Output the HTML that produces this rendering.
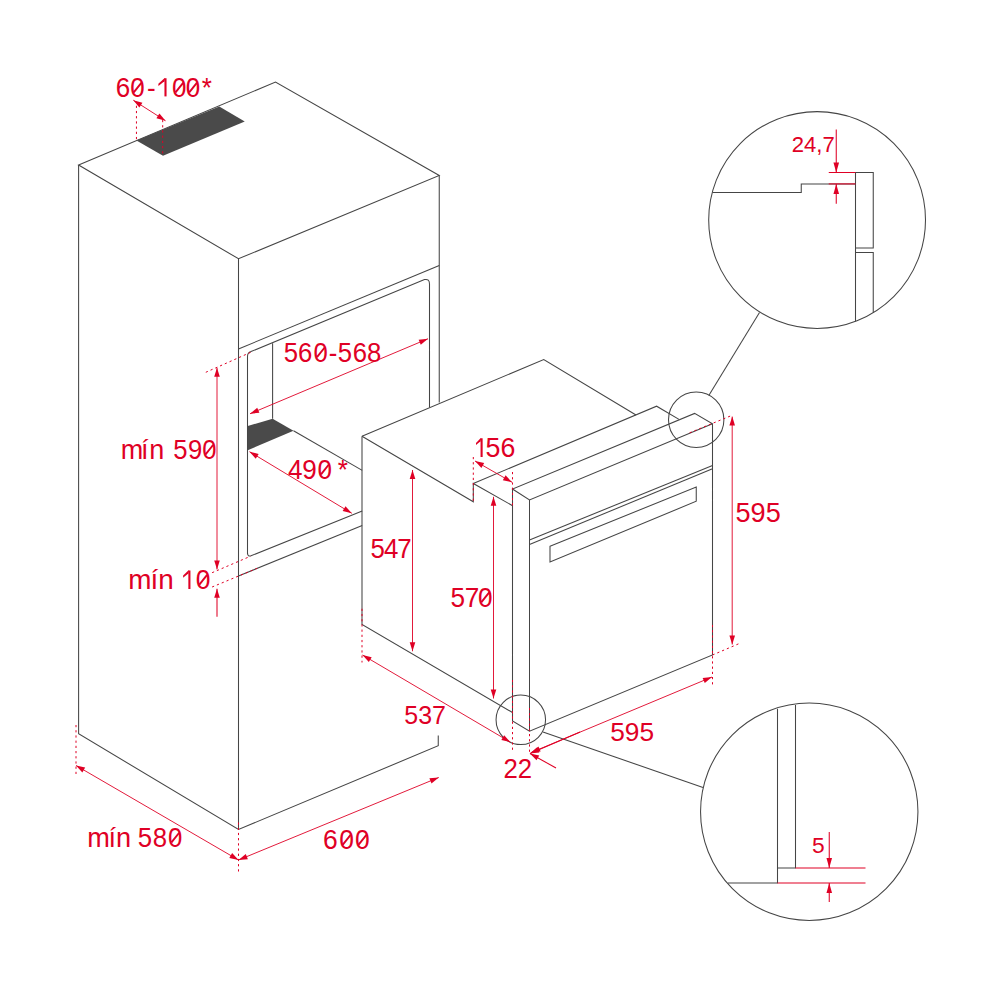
<!DOCTYPE html>
<html><head><meta charset="utf-8"><style>
html,body{margin:0;padding:0;background:#fff;width:1000px;height:1000px;overflow:hidden}
svg{display:block}
text{font-family:"Liberation Sans",sans-serif;fill:#df0025}
</style></head><body>
<svg width="1000" height="1000" viewBox="0 0 1000 1000">
<polygon points="78.6,165 275.5,82 439.25,175.5 238.5,258.75" fill="none" stroke="#454545" stroke-width="1.05"/>
<polyline points="78.6,165 78.6,733.75 238.5,829.5 438.25,745.75 438.25,735.5" fill="none" stroke="#454545" stroke-width="1.05"/>
<polyline points="238.5,258.75 238.5,829.5" fill="none" stroke="#454545" stroke-width="1.05"/>
<polyline points="439.25,175.5 439.25,402.5" fill="none" stroke="#454545" stroke-width="1.05"/>
<polyline points="238.5,349 439.25,265.5" fill="none" stroke="#454545" stroke-width="1.05"/>
<path d="M247.5,554 L247.5,356.4 Q247.5,352.8 251,351.6 L424.5,279.6 Q429.5,278.5 429.5,284 L429.5,407.5" fill="none" stroke="#454545" stroke-width="1.05"/>
<polyline points="272.6,343.2 272.6,418.7" fill="none" stroke="#454545" stroke-width="1.05"/>
<polygon points="247.75,426 272.6,418.7 293.5,430.8 247.75,450.2" fill="#4a4a4a"/>
<polyline points="293.5,430.8 362.2,470.4" fill="none" stroke="#454545" stroke-width="1.05"/>
<path d="M247.5,553 Q247.5,556.8 251,555.8 L362.2,511.1" fill="none" stroke="#454545" stroke-width="1.05"/>
<polyline points="238.5,576 362.2,525.4" fill="none" stroke="#454545" stroke-width="1.05"/>
<polygon points="136.45,140.5 219.25,106.5 244.75,121.5 163,155.7" fill="#4a4a4a"/>
<polyline points="362,436.25 543.75,359.5 636,415" fill="none" stroke="#454545" stroke-width="1.05"/>
<polyline points="362,436.25 473.3,501.8 473.3,483.5 512.2,505.5" fill="none" stroke="#454545" stroke-width="1.05"/>
<polyline points="473.3,483.5 656.6,406.2 679,419.4" fill="none" stroke="#454545" stroke-width="1.05"/>
<polyline points="362,436.25 362,624.5 512.5,712.5" fill="none" stroke="#454545" stroke-width="1.05"/>
<polyline points="512.5,489 512.5,721 529.5,731.2 712.5,655 712.5,423.8 694.6,413.4 512.5,489 529.5,500 712.5,423.8" fill="none" stroke="#454545" stroke-width="1.05"/>
<polyline points="529.5,500 529.5,731.2" fill="none" stroke="#454545" stroke-width="1.05"/>
<polyline points="529.5,540 712.5,465.5" fill="none" stroke="#454545" stroke-width="1.05"/>
<polyline points="529.5,544.5 712.5,468.8" fill="none" stroke="#454545" stroke-width="1.05"/>
<polygon points="550,546.25 696.25,487 696.25,501.25 550,562" fill="none" stroke="#454545" stroke-width="1.05"/>
<circle cx="696.2" cy="419.8" r="27.7" fill="none" stroke="#454545" stroke-width="1.05"/>
<polyline points="708.8,395.4 759.5,312.5" fill="none" stroke="#454545" stroke-width="1.05"/>
<circle cx="817.1" cy="220" r="108.4" fill="none" stroke="#454545" stroke-width="1.05"/>
<circle cx="520.8" cy="719.8" r="24.75" fill="none" stroke="#454545" stroke-width="1.05"/>
<polyline points="543,732 703,787.5" fill="none" stroke="#454545" stroke-width="1.05"/>
<circle cx="809.25" cy="811.75" r="108.7" fill="none" stroke="#454545" stroke-width="1.05"/>
<polyline points="712.5,192.5 801.25,192.5 801.25,183.9 855.5,183.9" fill="none" stroke="#454545" stroke-width="1.05"/>
<polyline points="855.5,321.25 855.5,172.5 873.25,172.5 873.25,248 855.5,248" fill="none" stroke="#454545" stroke-width="1.05"/>
<polyline points="855.5,252.5 873.25,252.5 873.25,312.5" fill="none" stroke="#454545" stroke-width="1.05"/>
<polyline points="828.75,172.5 855.5,172.5" fill="none" stroke="#df0025" stroke-width="1.05"/>
<polyline points="828.75,183.9 855.5,183.9" fill="none" stroke="#df0025" stroke-width="1.05"/>
<polyline points="836.25,129.5 836.25,172.5" fill="none" stroke="#df0025" stroke-width="1.05"/>
<polygon points="836.25,172.5 833.45,162.5 839.05,162.5" fill="#df0025"/>
<polyline points="836.25,183.9 836.25,203.75" fill="none" stroke="#df0025" stroke-width="1.05"/>
<polygon points="836.25,183.9 839.05,193.9 833.45,193.9" fill="#df0025"/>
<polyline points="777.5,708.75 777.5,883 728,883" fill="none" stroke="#454545" stroke-width="1.05"/>
<polyline points="795.5,705 795.5,868 777.5,868" fill="none" stroke="#454545" stroke-width="1.05"/>
<polyline points="795.5,868 865.5,868" fill="none" stroke="#df0025" stroke-width="1.05"/>
<polyline points="777.5,883 865.5,883" fill="none" stroke="#df0025" stroke-width="1.05"/>
<polyline points="829.25,832 829.25,868" fill="none" stroke="#df0025" stroke-width="1.05"/>
<polygon points="829.25,868 826.45,858.0 832.05,858.0" fill="#df0025"/>
<polyline points="829.25,883 829.25,902" fill="none" stroke="#df0025" stroke-width="1.05"/>
<polygon points="829.25,883 832.05,893.0 826.45,893.0" fill="#df0025"/>
<polyline points="133.3,100.2 165.5,120.75" fill="none" stroke="#df0025" stroke-width="0.9"/>
<polygon points="133.3,100.2 142.39297393840926,102.68149651529284 139.38030784515152,107.40207307017839" fill="#df0025"/>
<polygon points="165.5,120.75 156.40702606159076,118.26850348470717 159.4196921548485,113.54792692982161" fill="#df0025"/>
<polyline points="136.45,105.75 136.45,140.5" fill="none" stroke="#df0025" stroke-width="1.0" stroke-dasharray="2.2,3.0"/>
<polyline points="162.7,120 162.7,155.7" fill="none" stroke="#df0025" stroke-width="1.0" stroke-dasharray="2.2,3.0"/>
<polyline points="250,413.75 428,338.75" fill="none" stroke="#df0025" stroke-width="0.9"/>
<polygon points="250,413.75 257.2066334127066,407.6750979551222 259.3810486665405,412.8357101575546" fill="#df0025"/>
<polygon points="428,338.75 420.7933665872934,344.8249020448778 418.6189513334595,339.6642898424454" fill="#df0025"/>
<polyline points="249.5,451.7 351.8,513.3" fill="none" stroke="#df0025" stroke-width="0.9"/>
<polygon points="249.5,451.7 258.6544909353338,453.94394645989865 255.76573227431481,458.7413492362338" fill="#df0025"/>
<polygon points="351.8,513.3 342.6455090646662,511.0560535401013 345.5342677256852,506.2586507637661" fill="#df0025"/>
<polyline points="217,367.8 217,569.4" fill="none" stroke="#df0025" stroke-width="0.9"/>
<polygon points="217,367.8 219.8,376.8 214.2,376.8" fill="#df0025"/>
<polygon points="217,569.4 214.2,560.4 219.8,560.4" fill="#df0025"/>
<polyline points="205.8,372.3 251,352.2" fill="none" stroke="#df0025" stroke-width="1.0" stroke-dasharray="2.2,3.0"/>
<polyline points="212.1,572.7 250.6,556.2" fill="none" stroke="#df0025" stroke-width="1.0" stroke-dasharray="2.2,3.0"/>
<polyline points="212.1,587 257.2,568.3" fill="none" stroke="#df0025" stroke-width="1.0" stroke-dasharray="2.2,3.0"/>
<polyline points="217,588.8 217,616.7" fill="none" stroke="#df0025" stroke-width="1.05"/>
<polygon points="217,588.8 219.8,597.8 214.2,597.8" fill="#df0025"/>
<polyline points="76,765.5 238.5,860" fill="none" stroke="#df0025" stroke-width="0.9"/>
<polygon points="76,765.5 85.18767699232372,767.6039466449331 82.37248466742203,772.4448858279652" fill="#df0025"/>
<polygon points="238.5,860 229.31232300767627,857.8960533550669 232.12751533257799,853.0551141720348" fill="#df0025"/>
<polyline points="76,725 76,774.5" fill="none" stroke="#df0025" stroke-width="1.0" stroke-dasharray="2.2,3.0"/>
<polyline points="238.5,822.5 238.5,872.5" fill="none" stroke="#df0025" stroke-width="1.0" stroke-dasharray="2.2,3.0"/>
<polyline points="238.5,860 438.75,777.5" fill="none" stroke="#df0025" stroke-width="0.9"/>
<polygon points="238.5,860 245.75487016160668,853.982786447347 247.88804439528195,859.160582087268" fill="#df0025"/>
<polygon points="438.75,777.5 431.4951298383933,783.517213552653 429.36195560471805,778.339417912732" fill="#df0025"/>
<polyline points="412.5,470 412.5,651.25" fill="none" stroke="#df0025" stroke-width="0.9"/>
<polygon points="412.5,470 415.3,479.0 409.7,479.0" fill="#df0025"/>
<polygon points="412.5,651.25 409.7,642.25 415.3,642.25" fill="#df0025"/>
<polyline points="493.5,496.8 493.5,698.5" fill="none" stroke="#df0025" stroke-width="0.9"/>
<polygon points="493.5,496.8 496.3,505.8 490.7,505.8" fill="#df0025"/>
<polygon points="493.5,698.5 490.7,689.5 496.3,689.5" fill="#df0025"/>
<polyline points="475,461 512,482.2" fill="none" stroke="#df0025" stroke-width="0.9"/>
<polygon points="475,461 484.2010043894994,463.04487609023437 481.41697125380426,467.90380184592885" fill="#df0025"/>
<polygon points="512,482.2 502.7989956105006,480.1551239097656 505.58302874619574,475.29619815407113" fill="#df0025"/>
<polyline points="473.3,457 473.3,501.8" fill="none" stroke="#df0025" stroke-width="1.0" stroke-dasharray="2.2,3.0"/>
<polyline points="512.5,472 512.5,506" fill="none" stroke="#df0025" stroke-width="1.0" stroke-dasharray="2.2,3.0"/>
<polyline points="362.5,655 510.5,742.2" fill="none" stroke="#df0025" stroke-width="0.9"/>
<polygon points="362.5,655 371.6755391324277,657.1562656676043 368.8328078937545,661.9810847424166" fill="#df0025"/>
<polygon points="510.5,742.2 501.3244608675723,740.0437343323957 504.1671921062455,735.2189152575835" fill="#df0025"/>
<polyline points="362,608.75 362,662.5" fill="none" stroke="#df0025" stroke-width="1.0" stroke-dasharray="2.2,3.0"/>
<polyline points="512.5,680 512.5,751" fill="none" stroke="#df0025" stroke-width="1.0" stroke-dasharray="2.2,3.0"/>
<polyline points="529.5,708 529.5,753.5" fill="none" stroke="#df0025" stroke-width="1.0" stroke-dasharray="2.2,3.0"/>
<polyline points="580,732 530,753.5" fill="none" stroke="#df0025" stroke-width="1.05"/>
<polygon points="530,753.5 537.1619449863739,747.3724765188412 539.3741003900667,752.5170239692894" fill="#df0025"/>
<polyline points="556,768 530,753.5" fill="none" stroke="#df0025" stroke-width="1.05"/>
<polygon points="530,753.5 539.2240661496361,755.4381959826438 536.4964835882726,760.3290336788822" fill="#df0025"/>
<polyline points="531.25,752.5 712,677" fill="none" stroke="#df0025" stroke-width="0.9"/>
<polygon points="531.25,752.5 538.475424236343,746.4474596568989 540.6338369025569,751.6147853445566" fill="#df0025"/>
<polygon points="712,677 704.774575763657,683.0525403431011 702.6161630974431,677.8852146554434" fill="#df0025"/>
<polyline points="712.5,625 712.5,685" fill="none" stroke="#df0025" stroke-width="1.0" stroke-dasharray="2.2,3.0"/>
<polyline points="712.5,655 738.75,643.75" fill="none" stroke="#df0025" stroke-width="1.0" stroke-dasharray="2.2,3.0"/>
<polyline points="732.2,416.6 732.2,644.5" fill="none" stroke="#df0025" stroke-width="0.9"/>
<polygon points="732.2,416.6 735.0,425.6 729.4000000000001,425.6" fill="#df0025"/>
<polygon points="732.2,644.5 729.4000000000001,635.5 735.0,635.5" fill="#df0025"/>
<polyline points="689.6,432.8 730.4,416" fill="none" stroke="#df0025" stroke-width="1.0" stroke-dasharray="2.2,3.0"/>
<text transform="translate(115.84,96.70) scale(0.9500,1)" font-size="27.39">6</text>
<line x1="133.72" y1="92.32" x2="141.53" y2="82.57" stroke="#df0025" stroke-width="1.9"/>
<text transform="translate(130.26,96.70) scale(0.9500,1)" font-size="27.39">0</text>
<text transform="translate(147.11,96.70) scale(0.9500,1)" font-size="27.39">-</text>
<polygon points="164.45,78.25 166.55,78.25 166.55,96.40 164.45,96.40" fill="#df0025"/>
<polygon points="164.45,78.25 165.30,78.25 164.45,81.15 158.40,85.95 158.40,83.75" fill="#df0025"/>
<line x1="175.52" y1="92.32" x2="183.33" y2="82.57" stroke="#df0025" stroke-width="1.9"/>
<text transform="translate(172.06,96.70) scale(0.9500,1)" font-size="27.39">0</text>
<line x1="189.22" y1="92.32" x2="197.03" y2="82.57" stroke="#df0025" stroke-width="1.9"/>
<text transform="translate(185.76,96.70) scale(0.9500,1)" font-size="27.39">0</text>
<text transform="translate(201.69,96.70) scale(0.9500,1)" font-size="27.39">*</text>
<text transform="translate(283.76,361.50) scale(0.9500,1)" font-size="27.10">5</text>
<text transform="translate(298.06,361.50) scale(0.9500,1)" font-size="27.10">6</text>
<line x1="317.00" y1="357.17" x2="324.65" y2="347.52" stroke="#df0025" stroke-width="1.9"/>
<text transform="translate(313.57,361.50) scale(0.9500,1)" font-size="27.10">0</text>
<text transform="translate(328.73,361.50) scale(0.9500,1)" font-size="27.10">-</text>
<text transform="translate(337.66,361.50) scale(0.9500,1)" font-size="27.10">5</text>
<text transform="translate(352.76,361.50) scale(0.9500,1)" font-size="27.10">6</text>
<text transform="translate(366.96,361.50) scale(0.9500,1)" font-size="27.10">8</text>
<text transform="translate(288.07,478.70) scale(0.9500,1)" font-size="27.46">4</text>
<text transform="translate(302.36,478.70) scale(0.9500,1)" font-size="27.46">9</text>
<line x1="321.02" y1="474.31" x2="328.83" y2="464.53" stroke="#df0025" stroke-width="1.9"/>
<text transform="translate(317.56,478.70) scale(0.9500,1)" font-size="27.46">0</text>
<text transform="translate(337.69,478.70) scale(0.9500,1)" font-size="27.46">*</text>
<text transform="translate(120.75,458.70) scale(1.0000,1)" font-size="27.03">m</text>
<text transform="translate(140.88,458.70) scale(1.0000,1)" font-size="27.03">í</text>
<text transform="translate(149.30,458.70) scale(1.0000,1)" font-size="27.03">n</text>
<text transform="translate(173.26,458.70) scale(0.9500,1)" font-size="27.03">5</text>
<text transform="translate(187.88,458.70) scale(0.9500,1)" font-size="27.03">9</text>
<line x1="205.59" y1="454.38" x2="213.25" y2="444.75" stroke="#df0025" stroke-width="1.9"/>
<text transform="translate(202.18,458.70) scale(0.9500,1)" font-size="27.03">0</text>
<text transform="translate(128.28,589.30) scale(1.0000,1)" font-size="27.90">m</text>
<text transform="translate(150.38,589.30) scale(1.0000,1)" font-size="27.90">í</text>
<text transform="translate(158.25,589.30) scale(1.0000,1)" font-size="27.90">n</text>
<polygon points="188.35,570.50 190.45,570.50 190.45,589.00 188.35,589.00" fill="#df0025"/>
<polygon points="188.35,570.50 189.20,570.50 188.35,573.40 183.10,577.80 183.10,575.60" fill="#df0025"/>
<line x1="199.15" y1="584.84" x2="207.10" y2="574.91" stroke="#df0025" stroke-width="1.9"/>
<text transform="translate(195.64,589.30) scale(0.9500,1)" font-size="27.90">0</text>
<text transform="translate(87.25,846.80) scale(1.0000,1)" font-size="27.17">m</text>
<text transform="translate(108.38,846.80) scale(1.0000,1)" font-size="27.17">í</text>
<text transform="translate(116.00,846.80) scale(1.0000,1)" font-size="27.17">n</text>
<text transform="translate(137.76,846.80) scale(0.9500,1)" font-size="27.17">5</text>
<text transform="translate(152.76,846.80) scale(0.9500,1)" font-size="27.17">8</text>
<line x1="171.49" y1="842.46" x2="179.15" y2="832.78" stroke="#df0025" stroke-width="1.9"/>
<text transform="translate(168.07,846.80) scale(0.9500,1)" font-size="27.17">0</text>
<text transform="translate(323.12,849.30) scale(0.9500,1)" font-size="27.90">6</text>
<line x1="342.65" y1="844.84" x2="350.60" y2="834.91" stroke="#df0025" stroke-width="1.9"/>
<text transform="translate(339.14,849.30) scale(0.9500,1)" font-size="27.90">0</text>
<line x1="358.45" y1="844.84" x2="366.40" y2="834.91" stroke="#df0025" stroke-width="1.9"/>
<text transform="translate(354.94,849.30) scale(0.9500,1)" font-size="27.90">0</text>
<text transform="translate(370.56,557.80) scale(0.9500,1)" font-size="27.25">5</text>
<text transform="translate(383.99,557.80) scale(0.9500,1)" font-size="27.25">4</text>
<text transform="translate(397.26,557.80) scale(0.9500,1)" font-size="27.25">7</text>
<polygon points="480.55,438.30 482.65,438.30 482.65,457.00 480.55,457.00" fill="#df0025"/>
<polygon points="480.55,438.30 481.40,438.30 480.55,441.20 476.00,445.10 476.00,442.90" fill="#df0025"/>
<text transform="translate(485.42,457.30) scale(0.9500,1)" font-size="28.19">5</text>
<text transform="translate(500.40,457.30) scale(0.9500,1)" font-size="28.19">6</text>
<text transform="translate(450.44,606.60) scale(0.9500,1)" font-size="27.61">5</text>
<text transform="translate(464.64,606.60) scale(0.9500,1)" font-size="27.61">7</text>
<line x1="481.42" y1="602.18" x2="489.23" y2="592.36" stroke="#df0025" stroke-width="1.9"/>
<text transform="translate(477.96,606.60) scale(0.9500,1)" font-size="27.61">0</text>
<text transform="translate(404.34,724.30) scale(0.9576,1)" font-size="26.09">537</text>
<text transform="translate(503.48,777.80) scale(0.9500,1)" font-size="27.17">2</text>
<text transform="translate(517.77,777.80) scale(0.9500,1)" font-size="27.17">2</text>
<text transform="translate(610.21,740.50) scale(1.0373,1)" font-size="25.36">595</text>
<text transform="translate(735.54,521.80) scale(1.0047,1)" font-size="26.96">595</text>
<text transform="translate(791.65,152.00) scale(0.9988,1)" font-size="22.17">24,7</text>
<text transform="translate(811.95,853.00) scale(1.0488,1)" font-size="21.74">5</text>
</svg>
</body></html>
